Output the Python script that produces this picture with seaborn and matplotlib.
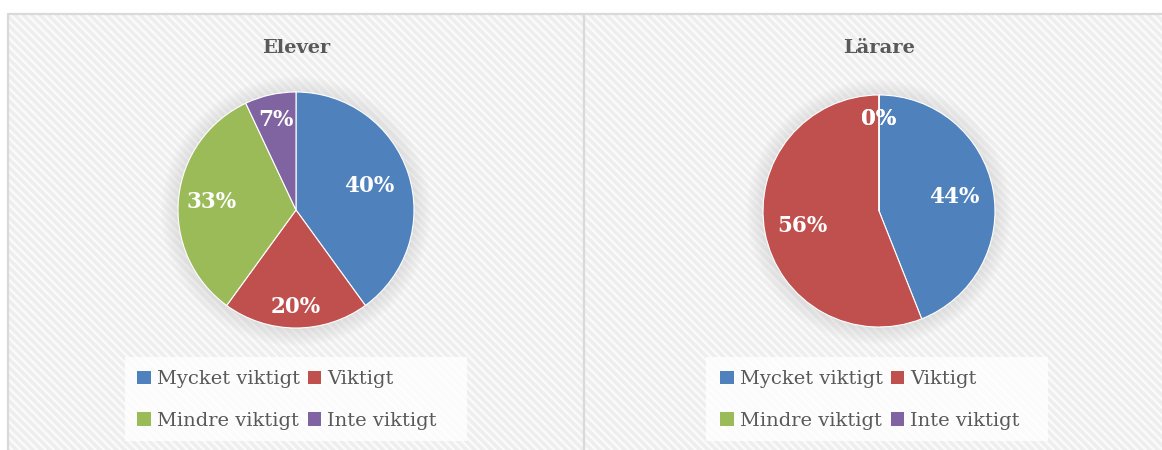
import seaborn as sns
import matplotlib.pyplot as plt
import numpy as np
from matplotlib.patches import Rectangle, Circle, Patch

categories = ["Mycket viktigt", "Viktigt", "Mindre viktigt", "Inte viktigt"]
elever = [40, 20, 33, 7]
larare = [44, 56, 0, 0]
titles = ["Elever", "Lärare"]

sns.set_style("white")
plt.rcParams['font.family'] = ['DejaVu Serif']
plt.rcParams['hatch.linewidth'] = 2.5

colors = ["#4F81BD", "#C0504D", "#9BBB59", "#8064A2"]
W, H = 1162, 450
fig = plt.figure(figsize=(W / 100, H / 100), dpi=100)
fig.patch.set_facecolor('white')


def px(x0, y0, w, h):
    # pixel box (top-left origin) -> figure fraction
    return [x0 / W, 1 - (y0 + h) / H, w / W, h / H]


# panel backgrounds with diagonal stripes
bg = fig.add_axes([0, 0, 1, 1], zorder=0)
bg.set_xlim(0, W)
bg.set_ylim(H, 0)
bg.axis('off')
for x0, x1 in [(8, 583), (584, 1170)]:
    bg.add_patch(Rectangle((x0, 14), x1 - x0, 450, facecolor='#fbfbfb',
                           edgecolor='#eeeeee', linewidth=0, hatch='\\\\\\\\'))
bg.plot([8, 1162], [14, 14], color='#d9d9d9', lw=1.6)
bg.plot([8, 8], [14, 450], color='#d9d9d9', lw=1.6)
bg.plot([583.5, 583.5], [14, 450], color='#d9d9d9', lw=1.6)

# legend backgrounds
for lx in [125, 706]:
    bg.add_patch(Rectangle((lx, 357), 342, 84, facecolor='white', edgecolor='none', alpha=0.8))

panels = [
    (elever, (296, 210, 118), 296, [0.65, 0.82, 0.72, 0.78]),
    (larare, (879, 211, 116), 879, [0.66, 0.67, 0.79, 0.79]),
]

order = [0, 2, 1, 3]  # row-major legend in a 2-column layout

for (vals, (cx, cy, r), tx, dists), title in zip(panels, titles):
    # soft shadow
    sh = fig.add_axes(px(cx - r * 1.3, cy - r * 1.3, 2.6 * r, 2.6 * r), zorder=1)
    sh.set_xlim(-1.3, 1.3)
    sh.set_ylim(-1.3, 1.3)
    sh.axis('off')
    for rr in np.linspace(1.14, 1.0, 10):
        sh.add_patch(Circle((0, -0.01), rr, color='#9a9a9a', alpha=0.025, lw=0))

    ax = fig.add_axes(px(cx - r, cy - r, 2 * r, 2 * r), zorder=2)
    wedges, texts, autotexts = ax.pie(
        vals, colors=colors, startangle=90, counterclock=False,
        autopct='%1.0f%%', radius=1,
        wedgeprops=dict(edgecolor='white', linewidth=0.8),
        textprops=dict(color='white', fontsize=15.5, fontweight='bold'))
    for w, t, d in zip(wedges, autotexts, dists):
        ang = np.deg2rad((w.theta1 + w.theta2) / 2)
        t.set_position((d * np.cos(ang), d * np.sin(ang)))
        t.set_ha('center')
        t.set_va('center')
    ax.set_xlim(-1, 1)
    ax.set_ylim(-1, 1)
    ax.set_aspect('equal')

    fig.text(tx / W, 1 - 48 / H, title, ha='center', va='center',
             fontsize=14, fontweight='bold', color='#595959')

    handles = [Patch(facecolor=c, edgecolor='none') for c in colors]
    fig.legend([handles[i] for i in order], [categories[i] for i in order],
               loc='center', ncol=2,
               bbox_to_anchor=((tx - 9) / W, 1 - 400 / H),
               frameon=False, fontsize=14, labelcolor='#595959',
               handlelength=0.7, handleheight=0.7, handletextpad=0.3,
               columnspacing=0.4, labelspacing=1.2)

plt.savefig("out.png", dpi=100)
